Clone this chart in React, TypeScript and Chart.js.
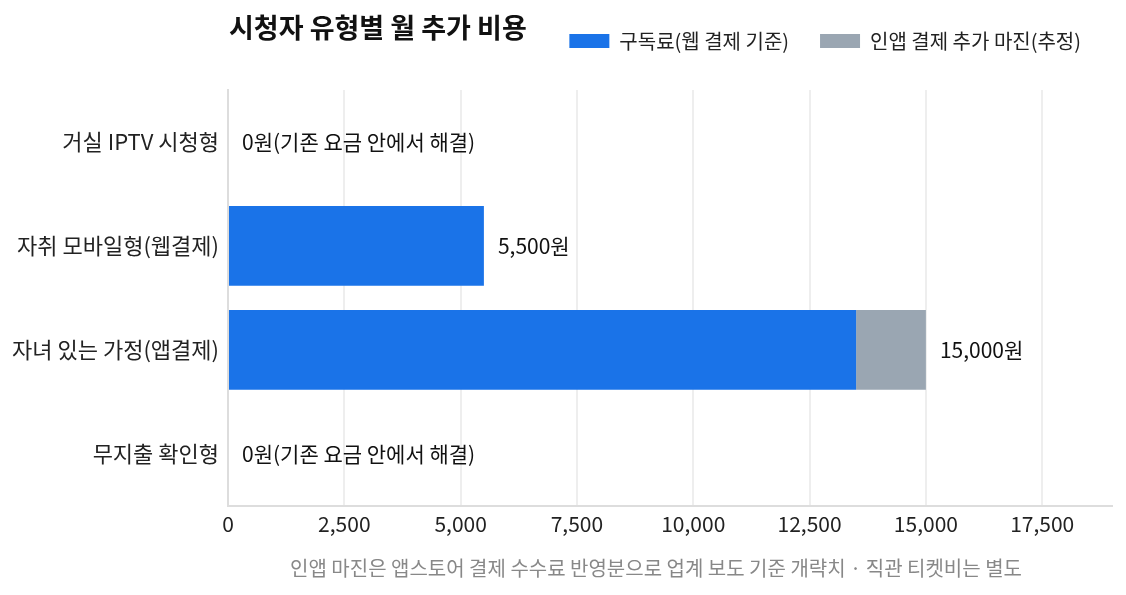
import { useEffect, useRef } from 'react';
import { Chart, registerables } from 'chart.js';

Chart.register(...registerables);

const FONT = '"Noto Sans CJK KR", "Noto Sans", sans-serif';

const title = '시청자 유형별 월 추가 비용';
const caption = '인앱 마진은 앱스토어 결제 수수료 반영분으로 업계 보도 기준 개략치 · 직관 티켓비는 별도';
const categories = ['거실 IPTV 시청형', '자취 모바일형(웹결제)', '자녀 있는 가정(앱결제)', '무지출 확인형'];
const subscriptionFee = [0, 5500, 13500, 0];
const inAppMargin = [0, 0, 1500, 0];
const xTicks = [0, 2500, 5000, 7500, 10000, 12500, 15000, 17500];
const xMax = 19000;
const zeroNote = '0원(기존 요금 안에서 해결)';
const seriesNames = ['구독료(웹 결제 기준)', '인앱 결제 추가 마진(추정)'];

// total at the end of each stacked bar
const totalLabels = {
  id: 'totalLabels',
  afterDatasetsDraw(chart: any) {
    const { ctx, scales } = chart;
    const meta = chart.getDatasetMeta(0);
    ctx.save();
    ctx.font = `21px ${FONT}`;
    ctx.fillStyle = '#111';
    ctx.textAlign = 'left';
    ctx.textBaseline = 'middle';
    categories.forEach((_, i) => {
      const total = subscriptionFee[i] + inAppMargin[i];
      const x = scales.x.getPixelForValue(total) + 14;
      const y = meta.data[i].y;
      const text = total > 0 ? `${total.toLocaleString('en-US')}원` : zeroNote;
      ctx.fillText(text, x, y);
    });
    ctx.restore();
  },
};

// extra room under the legend
const legendGap = {
  id: 'legendGap',
  beforeInit(chart: any) {
    const fit = chart.legend.fit;
    chart.legend.fit = function () {
      fit.bind(chart.legend)();
      this.height += 29;
    };
  },
};

export default function App() {
  const ref = useRef<HTMLCanvasElement>(null);
  const chartRef = useRef<Chart | null>(null);

  useEffect(() => {
    document.body.style.margin = '0';
    if (!ref.current) return;

    chartRef.current?.destroy();
    chartRef.current = new Chart(ref.current, {
      type: 'bar',
      data: {
        labels: categories,
        datasets: [
          {
            label: seriesNames[0],
            data: subscriptionFee,
            backgroundColor: '#1a73e8',
            borderWidth: 0,
            barPercentage: 0.96,
            categoryPercentage: 0.8,
          },
          {
            label: seriesNames[1],
            data: inAppMargin,
            backgroundColor: '#9aa6b2',
            borderWidth: 0,
            barPercentage: 0.96,
            categoryPercentage: 0.8,
          },
        ],
      },
      options: {
        indexAxis: 'y',
        responsive: true,
        maintainAspectRatio: false,
        animation: false,
        layout: { padding: { top: 0, right: 14, bottom: 52, left: 0 } },
        plugins: {
          legend: {
            position: 'top',
            align: 'end',
            labels: {
              boxWidth: 40,
              boxHeight: 14,
              padding: 31,
              color: '#222',
              font: { family: FONT, size: 20 },
            },
          },
          tooltip: { enabled: false },
        },
        scales: {
          x: {
            stacked: true,
            min: 0,
            max: xMax,
            border: { color: '#dddddd', width: 2 },
            grid: { color: '#eeeeee', lineWidth: 2, drawTicks: false },
            afterBuildTicks: (scale: any) => {
              scale.ticks = xTicks.map((value) => ({ value }));
            },
            ticks: {
              padding: 6,
              color: '#222',
              font: { family: FONT, size: 21 },
              callback: (v: any) => Number(v).toLocaleString('en-US'),
            },
          },
          y: {
            stacked: true,
            border: { color: '#dddddd', width: 2 },
            grid: { display: false, drawTicks: false },
            afterFit: (scale: any) => { scale.width = 228; },
            ticks: {
              padding: 9,
              color: '#222',
              font: { family: FONT, size: 22 },
            },
          },
        },
      },
      plugins: [totalLabels, legendGap],
    });
    return () => { chartRef.current?.destroy(); };
  }, []);

  return (
    <div style={{ position: 'relative', width: 1126, height: 595, fontFamily: FONT }}>
      <canvas ref={ref} />
      <div style={{ position: 'absolute', left: 229, top: 11, fontSize: 27, lineHeight: '32px', fontWeight: 700, color: '#111', whiteSpace: 'nowrap' }}>
        {title}
      </div>
      <div style={{ position: 'absolute', left: 656, top: 556, transform: 'translateX(-50%)', fontSize: 20, lineHeight: '24px', color: '#888', whiteSpace: 'nowrap' }}>
        {caption}
      </div>
    </div>
  );
}
